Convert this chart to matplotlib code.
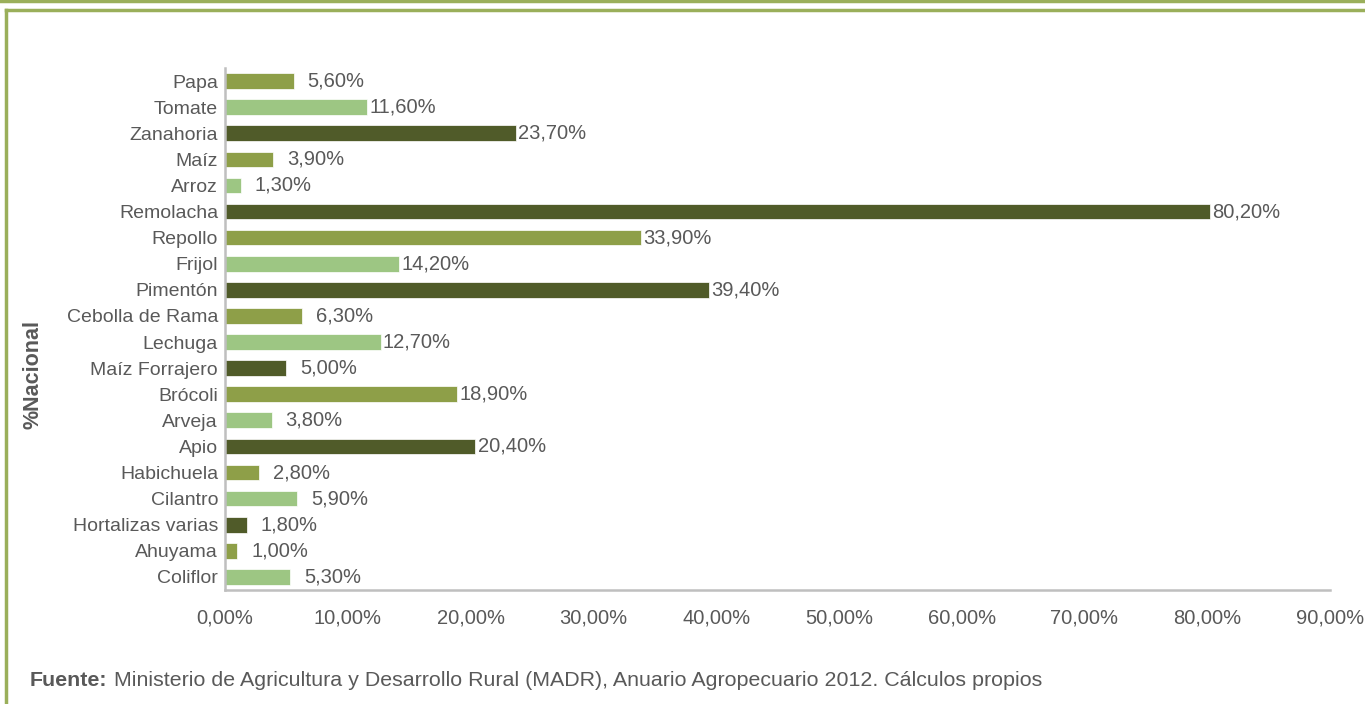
import matplotlib
matplotlib.use("Agg")
import matplotlib.pyplot as plt
from matplotlib.lines import Line2D

plt.rcParams['font.family'] = ['Liberation Sans', 'DejaVu Sans']

# datos (% nacional)
cultivos = ['Papa', 'Tomate', 'Zanahoria', 'Maíz', 'Arroz', 'Remolacha', 'Repollo',
            'Frijol', 'Pimentón', 'Cebolla de Rama', 'Lechuga', 'Maíz Forrajero',
            'Brócoli', 'Arveja', 'Apio', 'Habichuela', 'Cilantro', 'Hortalizas varias',
            'Ahuyama', 'Coliflor']
valores = [5.6, 11.6, 23.7, 3.9, 1.3, 80.2, 33.9, 14.2, 39.4, 6.3, 12.7, 5.0,
           18.9, 3.8, 20.4, 2.8, 5.9, 1.8, 1.0, 5.3]
xticks = [0, 10, 20, 30, 40, 50, 60, 70, 80, 90]

# los colores se repiten cada 3 barras
paleta = ['#8E9F48', '#9DC683', '#505B29']
colores = [paleta[i % 3] for i in range(len(cultivos))]
gris = '#595959'


def fmt(v):
    return ('%.2f%%' % v).replace('.', ',')


fig = plt.figure(figsize=(13.65, 7.04), dpi=100)
ax = fig.add_axes([0.1648, 0.162, 0.8096, 0.7414])

pos = list(range(len(cultivos)))
ax.barh(pos, valores, height=0.6, color=colores, edgecolor='white', linewidth=0.5)
ax.set_ylim(len(cultivos) - 0.5, -0.5)
ax.set_xlim(0, 90)

ax.set_yticks(pos)
ax.set_yticklabels(cultivos, fontsize=14, color=gris)
ax.set_xticks(xticks)
ax.set_xticklabels([fmt(t) for t in xticks], fontsize=14.5, color=gris)
ax.tick_params(axis='x', length=0, pad=13)
ax.tick_params(axis='y', length=0, pad=5)

for s in ['top', 'right']:
    ax.spines[s].set_visible(False)
for s in ['left', 'bottom']:
    ax.spines[s].set_color('#BFBFBF')
    ax.spines[s].set_linewidth(1.8)

# etiquetas de datos
for i, v in enumerate(valores):
    off = 1.5 if v >= 10 else 10
    ax.annotate(fmt(v), xy=(v, i), xytext=(off, 0), textcoords='offset points',
                ha='left', va='center', fontsize=14.5, color=gris)

fig.text(0.024, 0.468, '%Nacional', rotation=90, fontsize=15.5, fontweight='bold',
         color=gris, ha='center', va='center')

# fuente
f1 = fig.text(0.022, 0.034, 'Fuente:', fontsize=15.4, fontweight='bold', color=gris,
              ha='left', va='center')
ax.annotate(' Ministerio de Agricultura y Desarrollo Rural (MADR), Anuario Agropecuario 2012. Cálculos propios',
            xy=(1, 0.5), xycoords=f1, ha='left', va='center', fontsize=15.4, color=gris,
            annotation_clip=False)

# marco verde
verde = '#9AAF5A'
fig.add_artist(Line2D([0, 1], [0.9985, 0.9985], transform=fig.transFigure, color=verde, lw=2.5))
fig.add_artist(Line2D([0.0046, 1.01], [0.9858, 0.9858], transform=fig.transFigure, color=verde, lw=2.5))
fig.add_artist(Line2D([0.0046, 0.0046], [0.9858, -0.01], transform=fig.transFigure, color=verde, lw=2.5))

fig.savefig('out.png', dpi=100)
